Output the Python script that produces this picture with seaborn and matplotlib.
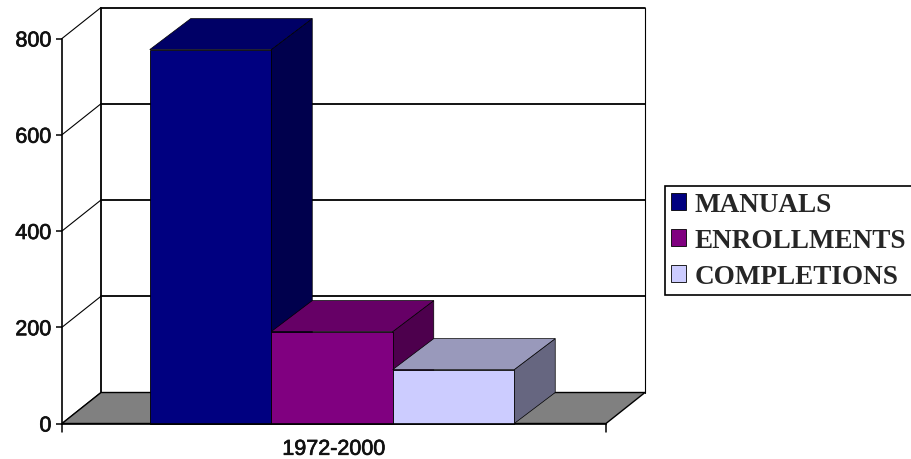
import matplotlib
matplotlib.use('Agg')
import matplotlib.pyplot as plt
import matplotlib.patheffects as pe
from matplotlib.patches import Polygon
import pandas as pd
import seaborn as sns

# values
period = ['1972-2000']
series = ['MANUALS', 'ENROLLMENTS', 'COMPLETIONS']
values = [777, 191, 112]
y_ticks = [0, 200, 400, 600, 800]

front_colors = ['#000080', '#800080', '#CCCCFF']
top_colors = ['#000066', '#660066', '#9999BB']
side_colors = ['#00004D', '#4D004D', '#666680']

sns.set_theme(style="white")
plt.rcParams['font.family'] = ['Liberation Sans', 'DejaVu Sans']

W, H = 911, 460
fig = plt.figure(figsize=(W / 100, H / 100), dpi=100)
ax = fig.add_axes([62 / W, (H - 424.5) / H, 544 / W, 385 / H])

df = pd.DataFrame({'period': period * 3, 'series': series, 'value': values})
sns.barplot(data=df, x='period', y='value', hue='series', hue_order=series,
            palette=front_colors, width=0.67, gap=0, saturation=1, legend=False,
            edgecolor='black', linewidth=0.6, ax=ax)

# the bar group sits a little left of the middle of the axis
ax.set_xlim(-270 / 544, 274 / 544)
ax.set_ylim(0, 800)

# depth of the fake 3D box, in data units
wall_dx = 39 / 544
bar_dx = 41 / 544
depth_dy = 31 * 800 / 385
x0, x1 = ax.get_xlim()

# floor
ax.add_patch(Polygon([(x0, 0), (x1, 0), (x1 + wall_dx, depth_dy), (x0 + wall_dx, depth_dy)],
                     closed=True, facecolor='#808080', edgecolor='black', linewidth=1,
                     clip_on=False, zorder=1))

# back wall, gridlines and the diagonals on the side wall
line_kw = dict(color='black', linewidth=1.3, clip_on=False, zorder=0.5)
for t in y_ticks:
    ax.plot([x0, x0 + wall_dx], [t, t + depth_dy], color='black', linewidth=0.8,
            clip_on=False, zorder=0.5)
    if t > 0:
        ax.plot([x0 + wall_dx, x1 + wall_dx], [t + depth_dy, t + depth_dy], **line_kw)
ax.plot([x0 + wall_dx, x0 + wall_dx], [depth_dy, 800 + depth_dy], **line_kw)
ax.plot([x1 + wall_dx, x1 + wall_dx], [depth_dy, 800 + depth_dy], color='black',
        linewidth=0.8, clip_on=False, zorder=0.5)

# side and top faces of each bar
for i, container in enumerate(ax.containers):
    for bar in container:
        bx, bw, bh = bar.get_x(), bar.get_width(), bar.get_height()
        z = 3 + i
        bar.set_zorder(z + 0.2)
        bar.set_clip_on(False)
        ax.add_patch(Polygon([(bx + bw, 0), (bx + bw + bar_dx, depth_dy),
                              (bx + bw + bar_dx, bh + depth_dy), (bx + bw, bh)],
                             closed=True, facecolor=side_colors[i], edgecolor='black',
                             linewidth=0.5, clip_on=False, zorder=z))
        ax.add_patch(Polygon([(bx, bh), (bx + bw, bh),
                              (bx + bw + bar_dx, bh + depth_dy), (bx + bar_dx, bh + depth_dy)],
                             closed=True, facecolor=top_colors[i], edgecolor='black',
                             linewidth=0.5, clip_on=False, zorder=z + 0.1))

# axes
sns.despine(ax=ax)
for side in ['left', 'bottom']:
    ax.spines[side].set_color('black')
    ax.spines[side].set_linewidth(1.2)
    ax.spines[side].set_zorder(8)
ax.set_xlabel('')
ax.set_ylabel('')
ax.set_yticks(y_ticks)
ax.tick_params(axis='y', left=True, length=4.5, width=1.1, color='black', pad=3,
               labelsize=15.5, labelcolor='#111111')
ax.set_xticks([(x0 + x1) / 2])
ax.set_xticklabels(period)
ax.tick_params(axis='x', bottom=False, pad=5, labelsize=15.5, labelcolor='#111111')
for x in [x0, x1]:
    ax.plot([x, x], [0, -18], color='black', linewidth=1.1, clip_on=False, zorder=8)
for label in ax.get_yticklabels() + ax.get_xticklabels():
    label.set_path_effects([pe.withStroke(linewidth=0.5, foreground='#111111')])

# legend box runs to the edge of the picture
handles = [c[0] for c in ax.containers]
leg = fig.legend(handles, series, loc='upper left',
                 bbox_to_anchor=(665 / W, (H - 187) / H), bbox_transform=fig.transFigure,
                 prop={'family': 'Liberation Serif', 'weight': 'bold', 'size': 19.5},
                 frameon=True, fancybox=False, edgecolor='black', framealpha=1,
                 handlelength=0.55, handleheight=0.55, handletextpad=0.33,
                 labelspacing=0.41, borderpad=0.22, borderaxespad=0)
leg.get_frame().set_linewidth(1.2)

fig.savefig('out.png', dpi=100, facecolor='white')
